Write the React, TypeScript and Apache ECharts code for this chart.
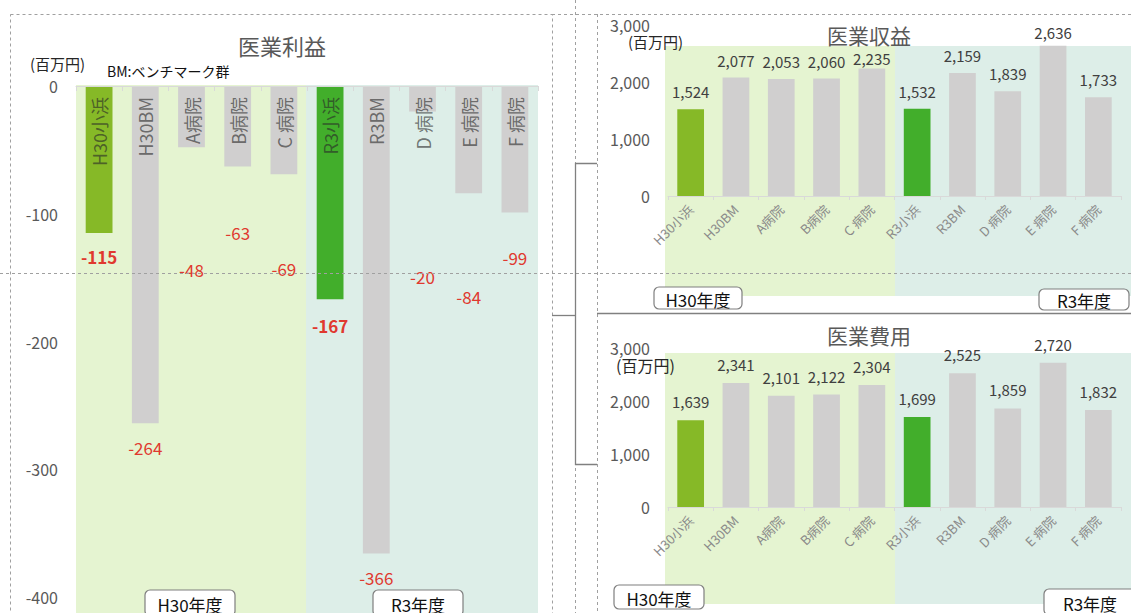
import React, { useEffect, useRef } from "react";
import * as echarts from "echarts";

// ---------- data ----------
const CATEGORIES = ["H30小浜", "H30BM", "A病院", "B病院", "C 病院", "R3小浜", "R3BM", "D 病院", "E 病院", "F 病院"];
const OPERATING_PROFIT = [-115, -264, -48, -63, -69, -167, -366, -20, -84, -99];
const OPERATING_REVENUE = [1524, 2077, 2053, 2060, 2235, 1532, 2159, 1839, 2636, 1733];
const OPERATING_EXPENSE = [1639, 2341, 2101, 2122, 2304, 1699, 2525, 1859, 2720, 1832];
const PROFIT_AXIS = { min: -400, max: 0, interval: 100 };
const AMOUNT_AXIS = { min: 0, max: 3000, interval: 1000 };
const YEAR_LABELS = ["H30年度", "R3年度"];
const TITLES = ["医業利益", "医業収益", "医業費用"];
const UNIT_LABEL = "(百万円)";
const BM_NOTE = "BM:ベンチマーク群";

// ---------- styles ----------
const FONT = '"Noto Sans CJK JP", "Noto Sans", sans-serif';
const H30_GREEN = "#86b927";
const R3_GREEN = "#42ae2b";
const GRAY_BAR = "#d0cfcf";
const BG_H30 = "#e5f4d1";
const BG_R3 = "#ddeee8";
const PROFIT_LABEL_GAP = [24, 24, 122, 66, 94, 26, 24, 165, 103, 45];
const PROFIT_LABEL_BOLD = [true, false, false, false, false, true, false, false, false, false];
const REVENUE_LABEL_GAP = [10, 10, 10, 10, 3, 10, 10, 10, 6, 10];
const EXPENSE_LABEL_GAP = [11, 11, 11, 11, 11, 11, 11, 11, 11, 11];

const barColor = (i: number) => (i === 0 ? H30_GREEN : i === 5 ? R3_GREEN : GRAY_BAR);
const fmt = (v: number) => v.toLocaleString("en-US");

export default function App() {
  const ref = useRef<HTMLDivElement>(null);
  useEffect(() => {
    if (!ref.current) return;
    const chart = echarts.init(ref.current, null, { renderer: "svg" });

    const dash = { stroke: "#a0a0a0", lineWidth: 1, lineDash: [3, 3] };
    const solid = { stroke: "#808080", lineWidth: 1.3 };
    const txt = (text: string, x: number, y: number, size: number, color: string, align = "left", weight = "normal") => ({
      type: "text",
      x,
      y,
      z: 120,
      style: { text, fontSize: size, fill: color, fontFamily: FONT, align, verticalAlign: "middle", fontWeight: weight },
    });
    const yearBox = (text: string, x: number, y: number, w: number, h: number) => [
      { type: "rect", z: 110, shape: { x, y, width: w, height: h, r: 5 }, style: { fill: "#ffffff", stroke: "#7f7f7f", lineWidth: 1.2 } },
      txt(text, x + w / 2, y + h / 2 + 1, 17, "#111111", "center"),
    ];

    const graphics: any[] = [
      // backgrounds
      { type: "rect", z: -10, shape: { x: 76, y: 85, width: 230, height: 540 }, style: { fill: BG_H30 } },
      { type: "rect", z: -10, shape: { x: 306, y: 85, width: 232, height: 540 }, style: { fill: BG_R3 } },
      { type: "rect", z: -10, shape: { x: 665, y: 46, width: 230, height: 250 }, style: { fill: BG_H30 } },
      { type: "rect", z: -10, shape: { x: 895, y: 46, width: 236, height: 250 }, style: { fill: BG_R3 } },
      { type: "rect", z: -10, shape: { x: 665, y: 353, width: 230, height: 251 }, style: { fill: BG_H30 } },
      { type: "rect", z: -10, shape: { x: 895, y: 353, width: 236, height: 251 }, style: { fill: BG_R3 } },
      // frames & page breaks
      { type: "rect", z: 100, shape: { x: 10.5, y: 14.5, width: 542, height: 620 }, style: { fill: "none", ...dash } },
      { type: "line", z: 100, shape: { x1: 552, y1: 14.5, x2: 1131, y2: 14.5 }, style: dash },
      { type: "line", z: 100, shape: { x1: 575.5, y1: 0, x2: 575.5, y2: 613 }, style: dash },
      { type: "line", z: 100, shape: { x1: 597.5, y1: 14, x2: 597.5, y2: 613 }, style: dash },
      { type: "line", z: 100, shape: { x1: 0, y1: 273.5, x2: 1131, y2: 273.5 }, style: dash },
      { type: "line", z: 100, shape: { x1: 597, y1: 313.5, x2: 1131, y2: 313.5 }, style: solid },
      { type: "polyline", z: 101, shape: { points: [[552, 315.5], [575.5, 315.5]] }, style: { ...solid, fill: "none" } },
      { type: "polyline", z: 101, shape: { points: [[597, 163.5], [575.5, 163.5], [575.5, 464.5], [597, 464.5]] }, style: { ...solid, fill: "none" } },
      // titles and notes
      txt(TITLES[0], 282, 45, 22, "#595959", "center"),
      txt(TITLES[1], 869, 35, 21, "#595959", "center"),
      txt(TITLES[2], 869, 335, 21, "#595959", "center"),
      txt(UNIT_LABEL, 30, 63, 15, "#262626"),
      txt(BM_NOTE, 107, 71, 14, "#111111"),
      txt(UNIT_LABEL, 628, 41, 15, "#262626"),
      txt(UNIT_LABEL, 616, 365, 16, "#262626"),
      ...yearBox(YEAR_LABELS[0], 145, 590, 90, 26),
      ...yearBox(YEAR_LABELS[1], 373, 590, 90, 26),
      ...yearBox(YEAR_LABELS[0], 654, 287, 88, 22),
      ...yearBox(YEAR_LABELS[1], 1039, 289, 90, 21),
      ...yearBox(YEAR_LABELS[0], 614, 585, 90, 24),
      ...yearBox(YEAR_LABELS[1], 1044, 589, 92, 26),
    ];

    const rightX = (grid: number) => ({
      type: "category",
      gridIndex: grid,
      data: CATEGORIES,
      axisLine: { lineStyle: { color: "#d9d9d9" } },
      axisTick: { show: true, length: 4, lineStyle: { color: "#d9d9d9" } },
      axisLabel: { rotate: 45, interval: 0, fontSize: 13, color: "#8a8a8a", margin: 11, fontFamily: FONT },
    });
    const rightY = (grid: number) => ({
      type: "value",
      gridIndex: grid,
      ...AMOUNT_AXIS,
      axisLine: { show: false },
      axisTick: { show: false },
      splitLine: { show: false },
      axisLabel: { color: "#595959", fontSize: 16, margin: 18, fontFamily: FONT, formatter: (v: number) => fmt(v) },
    });
    const rightSeries = (grid: number, values: number[], gaps: number[]) => ({
      type: "bar",
      xAxisIndex: grid,
      yAxisIndex: grid,
      barWidth: "59%",
      data: values.map((v, i) => ({ value: v, itemStyle: { color: barColor(i) }, label: { distance: gaps[i] } })),
      label: {
        show: true,
        position: "top",
        color: "#404040",
        fontSize: 15,
        fontFamily: FONT,
        formatter: (p: any) => fmt(p.value),
      },
    });

    chart.setOption({
      animation: false,
      backgroundColor: "#ffffff",
      textStyle: { fontFamily: FONT },
      grid: [
        { left: 76, top: 86, width: 462, height: 511 },
        { left: 668, top: 25, width: 453, height: 171 },
        { left: 668, top: 348, width: 453, height: 159 },
      ],
      xAxis: [
        {
          type: "category",
          gridIndex: 0,
          position: "top",
          z: 20,
          data: CATEGORIES,
          axisLine: { lineStyle: { color: "#d9d9d9" } },
          axisTick: { show: true, inside: true, length: 5, lineStyle: { color: "#d9d9d9" } },
          axisLabel: { inside: true, rotate: 90, interval: 0, margin: 11, fontSize: 18, color: "rgba(40,40,40,0.62)", fontFamily: FONT },
        },
        rightX(1),
        rightX(2),
      ],
      yAxis: [
        {
          type: "value",
          gridIndex: 0,
          ...PROFIT_AXIS,
          axisLine: { show: false },
          axisTick: { show: false },
          splitLine: { show: false },
          axisLabel: { color: "#595959", fontSize: 16, margin: 18, fontFamily: FONT },
        },
        rightY(1),
        rightY(2),
      ],
      series: [
        {
          type: "bar",
          xAxisIndex: 0,
          yAxisIndex: 0,
          barWidth: "58%",
          data: OPERATING_PROFIT.map((v, i) => ({
            value: v,
            itemStyle: { color: barColor(i) },
            label: { distance: PROFIT_LABEL_GAP[i], fontWeight: PROFIT_LABEL_BOLD[i] ? "bold" : "normal" },
          })),
          label: {
            show: true,
            position: "bottom",
            verticalAlign: "middle",
            color: "#e0392f",
            fontSize: 17,
            fontFamily: FONT,
          },
        },
        rightSeries(1, OPERATING_REVENUE, REVENUE_LABEL_GAP),
        rightSeries(2, OPERATING_EXPENSE, EXPENSE_LABEL_GAP),
      ],
      graphic: { elements: graphics },
    });

    return () => chart.dispose();
  }, []);

  return <div ref={ref} style={{ position: "fixed", left: 0, top: 0, width: 1131, height: 613 }} />;
}
